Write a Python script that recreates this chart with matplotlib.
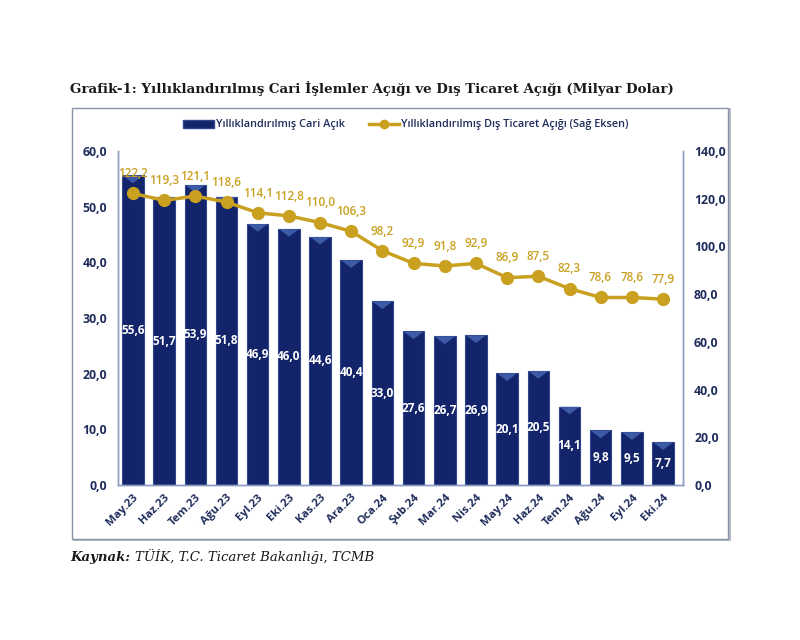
import matplotlib.pyplot as plt
from matplotlib.patches import Rectangle, Polygon
from matplotlib.lines import Line2D
from matplotlib.ticker import FuncFormatter

# months (Turkish abbreviations)
months = ['May.23', 'Haz.23', 'Tem.23', 'Ağu.23', 'Eyl.23', 'Eki.23', 'Kas.23', 'Ara.23',
          'Oca.24', 'Şub.24', 'Mar.24', 'Nis.24', 'May.24', 'Haz.24', 'Tem.24', 'Ağu.24',
          'Eyl.24', 'Eki.24']

# annualized current account deficit (left axis)
cari_acik = [55.6, 51.7, 53.9, 51.8, 46.9, 46.0, 44.6, 40.4, 33.0, 27.6, 26.7, 26.9,
             20.1, 20.5, 14.1, 9.8, 9.5, 7.7]

# annualized foreign trade deficit (right axis)
dis_ticaret = [122.2, 119.3, 121.1, 118.6, 114.1, 112.8, 110.0, 106.3, 98.2, 92.9, 91.8,
               92.9, 86.9, 87.5, 82.3, 78.6, 78.6, 77.9]

navy = '#14246a'
gold = '#c9a020'
tick_col = '#1f2d5c'
font = 'Open Sans'

def fmt(v, pos=None):
    return f'{v:.1f}'.replace('.', ',')

fig = plt.figure(figsize=(8, 6.4), dpi=100)

# outer chart frame (behind the axes)
fig.patches.append(Rectangle((73 / 800, 1 - 541 / 640), 658 / 800, 433 / 640,
                             transform=fig.transFigure, facecolor='#b8bcc4',
                             edgecolor='none', zorder=-10))
fig.patches.append(Rectangle((72 / 800, 1 - 539 / 640), 656 / 800, 431 / 640,
                             transform=fig.transFigure, facecolor='white',
                             edgecolor='#8a94a8', linewidth=1.0, zorder=-9))

ax = fig.add_axes([118 / 800, 1 - 485 / 640, 565 / 800, 334 / 640])
ax.set_facecolor('none')
x = list(range(len(months)))
w = 0.69
ax.bar(x, cari_acik, width=w, color=navy, edgecolor='#2f4790', linewidth=0.8, zorder=2)

# bevel highlight at top of each bar
for xi, h in zip(x, cari_acik):
    ax.add_patch(Polygon([(xi - w / 2 + 0.03, h - 0.05), (xi + w / 2 - 0.03, h - 0.05),
                          (xi, h - 1.4)], closed=True, facecolor='#3c5aa6',
                         edgecolor='none', zorder=3))
    ax.text(xi, h / 2, fmt(h), ha='center', va='center', color='white',
            fontsize=8.5, fontweight='bold', family=font, zorder=4)

ax.set_ylim(0, 60)
ax.set_yticks(range(0, 61, 10))
ax.yaxis.set_major_formatter(FuncFormatter(fmt))
ax.set_xlim(-0.48, 17.64)
ax.set_xticks(x)
ax.set_xticklabels(months, rotation=45, ha='right', rotation_mode='anchor')

ax2 = ax.twinx()
ax2.plot(x, dis_ticaret, color=gold, linewidth=2.5, marker='o', markersize=8.5, zorder=5)
for xi, v in zip(x, dis_ticaret):
    ax2.annotate(fmt(v), (xi, v), xytext=(0, 9.5), textcoords='offset points',
                 ha='center', va='bottom', color=gold, fontsize=8.5,
                 fontweight='semibold', family=font)
ax2.set_ylim(0, 140)
ax2.set_yticks(range(0, 141, 20))
ax2.yaxis.set_major_formatter(FuncFormatter(fmt))

for a in (ax, ax2):
    a.spines['top'].set_visible(False)
    for s in ('left', 'right', 'bottom'):
        a.spines[s].set_color('#8a9bbf')
        a.spines[s].set_linewidth(1.0)
    a.tick_params(length=0, colors=tick_col, labelsize=8.8, pad=8)
    for lab in a.get_xticklabels() + a.get_yticklabels():
        lab.set_family(font)
        lab.set_fontweight('bold')
        lab.set_color(tick_col)
ax.tick_params(axis='x', pad=5, labelsize=8.2)

# legend
handles = [Rectangle((0, 0), 1, 1, facecolor=navy, edgecolor='#2f4790'),
           Line2D([], [], color=gold, linewidth=2.5, marker='o', markersize=6)]
fig.legend(handles, ['Yıllıklandırılmış Cari Açık',
                     'Yıllıklandırılmış Dış Ticaret Açığı (Sağ Eksen)'],
           loc='center', bbox_to_anchor=(406 / 800, 1 - 125 / 640), ncol=2, frameon=False,
           prop={'family': font, 'size': 7.8, 'weight': 'semibold'}, handlelength=2.8,
           handleheight=0.7, columnspacing=2.2, handletextpad=0.2, labelcolor=tick_col)

# title and source
fig.text(70 / 800, 1 - 88 / 640,
         'Grafik-1: Yıllıklandırılmış Cari İşlemler Açığı ve Dış Ticaret Açığı (Milyar Dolar)',
         ha='left', va='center', fontsize=9.6, fontweight='bold', family='DejaVu Serif',
         color='#1a1a1a')
fig.text(70 / 800, 1 - 557 / 640, 'Kaynak:', ha='left', va='center', fontsize=9.5,
         fontweight='bold', style='italic', family='DejaVu Serif', color='#1a1a1a')
fig.text(135 / 800, 1 - 557 / 640, 'TÜİK, T.C. Ticaret Bakanlığı, TCMB', ha='left',
         va='center', fontsize=9.5, style='italic', family='DejaVu Serif', color='#1a1a1a')

fig.savefig('out.png', dpi=100, facecolor='white')
